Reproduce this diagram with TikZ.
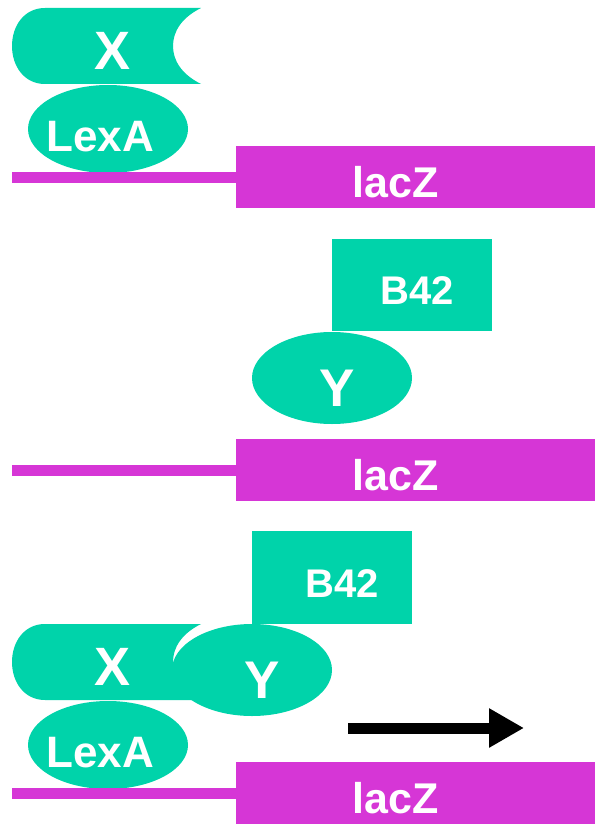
\documentclass[tikz,border=0pt]{standalone}
\usepackage{fontspec}
\setmainfont{Liberation Sans}
\usetikzlibrary{arrows.meta}
\definecolor{prot}{RGB}{0,211,170}
\definecolor{dna}{RGB}{214,54,214}
\tikzset{
  lbl/.style={text=white, font=\bfseries\fontsize{#1}{#1}\selectfont, inner sep=0pt},
  lbl/.default=43,
  xprot/.style={fill=prot},
  push/.style={line width=11pt, -{Triangle[length=35pt,width=37pt]}},
}
\newcommand\xshape{%
  (45,8) -- (201,8) .. controls (181,18) and (173,32) .. (173,46)
  .. controls (173,60) and (181,74) .. (201,84) -- (45,84)
  .. controls (24,84) and (12,66) .. (12,46)
  .. controls (12,26) and (24,8) .. (45,8) -- cycle}
\begin{document}
\begin{tikzpicture}[x=1pt, y=-1pt]
  \useasboundingbox (0,0) rectangle (595,824);
  % bait X on LexA
  \fill[xprot] \xshape;
  \fill[prot] (108,129) ellipse [x radius=80pt, y radius=44pt];
  \fill[dna] (12,172) rectangle (236,183);
  \fill[dna] (236,146) rectangle (595,208);
  \draw
    (113,51) node[lbl=54] (xa){X}
    (100,137) node[lbl=44] (lexaa){LexA}
    (396,182) node[lbl] (lacza){lacZ};
  % prey Y on B42
  \begin{scope}[shift={(0,293)}]
    \fill[prot] (332,-54) rectangle (492,38);
    \fill[prot] (332,85) ellipse [x radius=80pt, y radius=46pt];
    \fill[dna] (12,172) rectangle (236,183);
    \fill[dna] (236,146) rectangle (595,208);
    \draw
      (417,-2) node[lbl=40] (b42b){B42}
      (337,95) node[lbl=53] (yb){Y}
      (396,182) node[lbl] (laczb){lacZ};
  \end{scope}
  % both together
  \begin{scope}[shift={(0,616)}]
    \fill[xprot] \xshape;
    \fill[prot] (252,54) ellipse [x radius=80pt, y radius=46pt];
    \fill[prot] (252,-85) rectangle (412,8);
    \fill[prot] (108,129) ellipse [x radius=80pt, y radius=44pt];
    \fill[dna] (12,172) rectangle (236,183);
    \fill[dna] (236,146) rectangle (595,208);
    \draw
      (113,51) node[lbl=54] (xc){X}
      (262,64) node[lbl=53] (yc){Y}
      (342,-32) node[lbl=40] (b42c){B42}
      (100,137) node[lbl=44] (lexac){LexA}
      (396,182) node[lbl] (laczc){lacZ};
    \coordinate (from) at (348,112);
    \coordinate (to) at (524,112);
    \draw[push] (from) -- (to);
  \end{scope}
\end{tikzpicture}
\end{document}
